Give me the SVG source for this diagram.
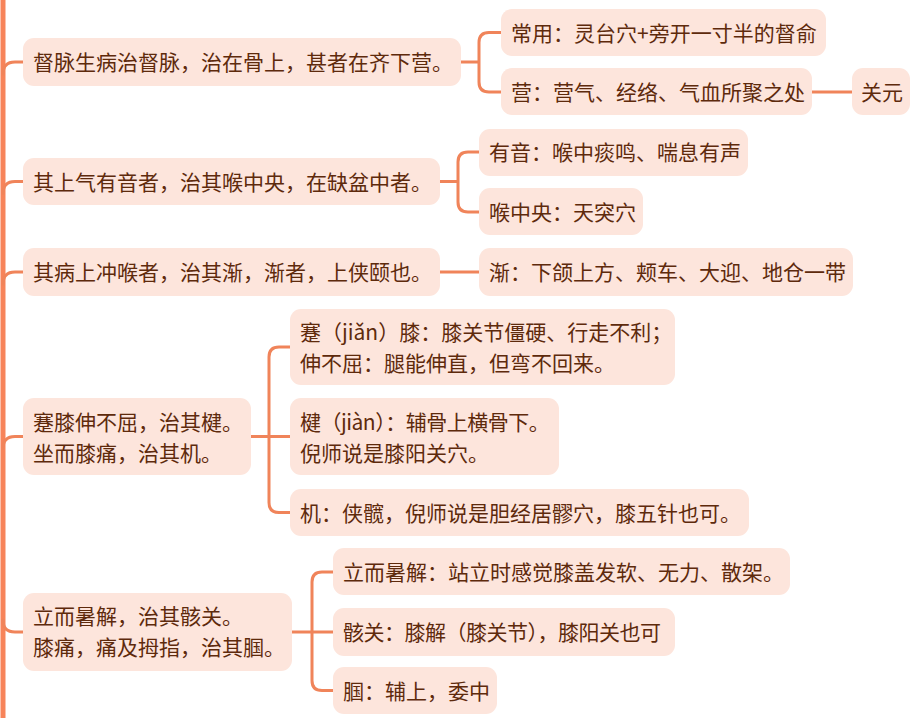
<svg xmlns="http://www.w3.org/2000/svg" width="923" height="718" viewBox="0 0 923 718">
<style>
.box{fill:#fde5dc;}
.t{font-family:"Noto Sans CJK SC","Noto Sans",sans-serif;font-size:21px;fill:#5e2a0c;}
.sq{letter-spacing:-0.5px;}
.c{fill:none;stroke:#f0845a;stroke-width:3;stroke-linecap:round;stroke-linejoin:round;}
.trunk{fill:none;stroke:#f7845a;stroke-width:5;}
</style>
<rect width="923" height="718" fill="#ffffff"/>
<g id="connectors">
<line class="trunk" x1="3" y1="0" x2="3" y2="718"/>
<path class="c" d="M3 74 Q3 62 15 62 L23 62"/>
<path class="c" d="M3 193.5 Q3 181.5 15 181.5 L23 181.5"/>
<path class="c" d="M3 284 Q3 272 15 272 L23 272"/>
<path class="c" d="M3 448.5 Q3 436.5 15 436.5 L23 436.5"/>
<path class="c" d="M3 620 Q3 632 15 632 L23 632"/>
<path class="c" d="M461 62 L479 62 M501 32.5 L489 32.5 Q479 32.5 479 42.5 L479 82 Q479 92 489 92 L501 92"/>
<path class="c" d="M812 92 L852 92"/>
<path class="c" d="M440 181.5 L458 181.5 M479 152 L468 152 Q458 152 458 162 L458 202 Q458 212 468 212 L479 212"/>
<path class="c" d="M440 272 L479 272"/>
<path class="c" d="M251 436.5 L290 436.5 M290 347 L279 347 Q269 347 269 357 L269 502.5 Q269 512.5 279 512.5 L290 512.5"/>
<path class="c" d="M292 632 L333 632 M333 572 L322 572 Q312 572 312 582 L312 680.5 Q312 690.5 322 690.5 L333 690.5"/>
</g>
<g id="n1"><rect class="box" x="23" y="38" width="438" height="48" rx="11"/><text class="t" x="33" y="70">督脉生病治督脉，治在骨上，甚者在齐下营。</text></g>
<g id="n2"><rect class="box" x="501" y="9" width="325" height="47" rx="11"/><text class="t" x="511" y="40.5">常用：灵台穴+旁开一寸半的督俞</text></g>
<g id="n3"><rect class="box" x="501" y="68" width="311" height="47" rx="11"/><text class="t" x="511" y="100">营：营气、经络、气血所聚之处</text></g>
<g id="n4"><rect class="box" x="852" y="68" width="58" height="47" rx="11"/><text class="t" x="861" y="100">关元</text></g>
<g id="n5"><rect class="box" x="23" y="158" width="417" height="47" rx="11"/><text class="t" x="33" y="189.5">其上气有音者，治其喉中央，在缺盆中者。</text></g>
<g id="n6"><rect class="box" x="479" y="129" width="269" height="47" rx="11"/><text class="t" x="489" y="160">有音：喉中痰鸣、喘息有声</text></g>
<g id="n7"><rect class="box" x="479" y="188" width="164" height="47" rx="11"/><text class="t" x="489" y="220">喉中央：天突穴</text></g>
<g id="n8"><rect class="box" x="23" y="248" width="417" height="48" rx="11"/><text class="t" x="33" y="280">其病上冲喉者，治其渐，渐者，上侠颐也。</text></g>
<g id="n9"><rect class="box" x="479" y="248" width="374" height="48" rx="11"/><text class="t" x="489" y="280">渐：下颌上方、颊车、大迎、地仓一带</text></g>
<g id="n10"><rect class="box" x="23" y="398" width="228" height="77" rx="11"/><text class="t" x="33" y="430">蹇膝伸不屈，治其楗。</text><text class="t" x="33" y="461">坐而膝痛，治其机。</text></g>
<g id="n11"><rect class="box" x="290" y="309" width="385" height="76" rx="11"/><text class="t" x="300" y="340">蹇（jiǎn）膝：膝关节僵硬、行走不利；</text><text class="t" x="300" y="371">伸不屈：腿能伸直，但弯不回来。</text></g>
<g id="n12"><rect class="box" x="290" y="398" width="269" height="77" rx="11"/><text class="t sq" x="300" y="430">楗（jiàn）：辅骨上横骨下。</text><text class="t" x="300" y="461">倪师说是膝阳关穴。</text></g>
<g id="n13"><rect class="box" x="290" y="489" width="459" height="47" rx="11"/><text class="t" x="300" y="520.5">机：侠髋，倪师说是胆经居髎穴，膝五针也可。</text></g>
<g id="n14"><rect class="box" x="23" y="593" width="269" height="78" rx="11"/><text class="t" x="33" y="624">立而暑解，治其骸关。</text><text class="t" x="33" y="655">膝痛，痛及拇指，治其腘。</text></g>
<g id="n15"><rect class="box" x="333" y="548" width="457" height="47" rx="11"/><text class="t" x="343" y="580">立而暑解：站立时感觉膝盖发软、无力、散架。</text></g>
<g id="n16"><rect class="box" x="333" y="608" width="342" height="48" rx="11"/><text class="t sq" x="343" y="640">骸关：膝解（膝关节），膝阳关也可</text></g>
<g id="n17"><rect class="box" x="333" y="667" width="164" height="47" rx="11"/><text class="t" x="343" y="698.5">腘：辅上，委中</text></g>
</svg>
